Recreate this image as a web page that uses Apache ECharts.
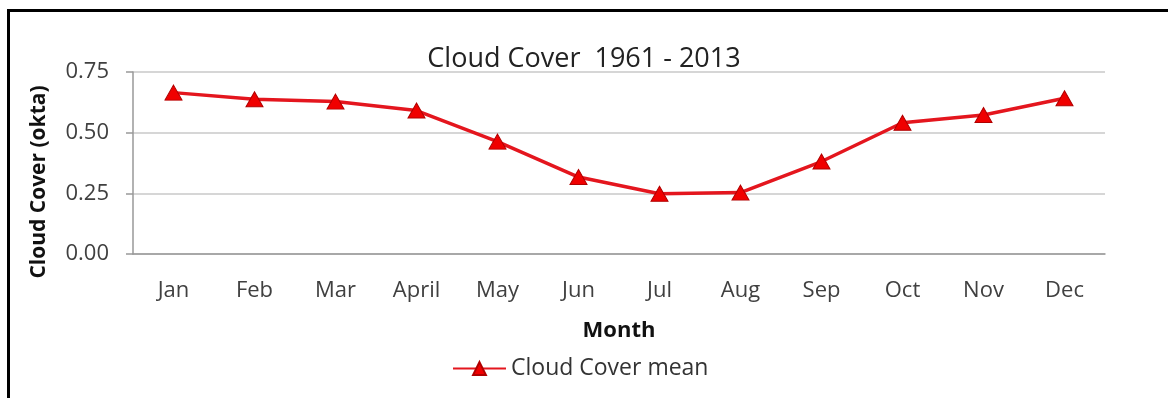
<!DOCTYPE html>
<html>
<head>
<meta charset="utf-8">
<script src="https://cdn.jsdelivr.net/npm/echarts@6/dist/echarts.min.js"></script>
<style>
  html, body { margin: 0; padding: 0; background: #fff; }
  #main { width: 1168px; height: 398px; }
</style>
</head>
<body>
<div id="main"></div>
<script>
var myChart = echarts.init(document.getElementById('main'));

// months on the x axis
var months = ['Jan', 'Feb', 'Mar', 'April', 'May', 'Jun', 'Jul', 'Aug', 'Sep', 'Oct', 'Nov', 'Dec'];
// mean cloud cover (okta)
var cloudMean = [0.665, 0.638, 0.628, 0.591, 0.463, 0.317, 0.248, 0.253, 0.381, 0.541, 0.573, 0.642];
// y axis ticks
var yTicks = [0, 0.25, 0.5, 0.75];

var font = 'Open Sans';
var gray = '#999';

myChart.setOption({
    animation: false,
    backgroundColor: '#fff',
    title: {
        text: 'Cloud Cover  1961 - 2013',
        left: 'center',
        top: 41,
        textStyle: { fontFamily: font, fontSize: 27, fontWeight: 'normal', color: '#222' }
    },
    legend: {
        left: 447,
        top: 352,
        itemWidth: 53,
        itemHeight: 16,
        itemGap: 10,
        textStyle: { fontFamily: font, fontSize: 23, color: '#333' },
        data: ['Cloud Cover mean']
    },
    grid: { left: 133, right: 63, top: 72, bottom: 144 },
    xAxis: {
        type: 'category',
        data: months,
        name: 'Month',
        nameLocation: 'middle',
        nameGap: 66,
        nameTextStyle: { fontFamily: font, fontSize: 22, fontWeight: 'bold', color: '#111' },
        axisLine: { lineStyle: { color: gray, width: 1.5 } },
        axisTick: { length: 8, lineStyle: { color: gray, width: 1.5 } },
        axisLabel: { margin: 26, fontFamily: font, fontSize: 22, color: '#404040' }
    },
    yAxis: {
        type: 'value',
        min: yTicks[0],
        max: yTicks[yTicks.length - 1],
        interval: 0.25,
        axisLine: { show: true, lineStyle: { color: gray, width: 1.5 } },
        axisTick: { show: true, length: 7, lineStyle: { color: gray, width: 1.5 } },
        axisLabel: {
            margin: 24,
            fontFamily: font,
            fontSize: 22,
            color: '#404040',
            formatter: function (v) { return v.toFixed(2); }
        },
        splitLine: { lineStyle: { color: '#c8c8c8', width: 1.5 } }
    },
    series: [
        {
            name: 'Cloud Cover mean',
            type: 'line',
            data: cloudMean,
            symbol: 'triangle',
            symbolSize: [17, 15],
            lineStyle: { color: '#e4161e', width: 3.5 },
            itemStyle: { color: '#f00000', borderColor: '#b00000', borderWidth: 1 }
        }
    ],
    graphic: [
        {
            // frame round the chart, open at right and bottom
            type: 'rect',
            shape: { x: 8.5, y: 10.5, width: 1300, height: 600 },
            style: { fill: 'none', stroke: '#000', lineWidth: 3 },
            silent: true
        },
        {
            type: 'text',
            x: 39,
            y: 182,
            rotation: Math.PI / 2,
            style: {
                text: 'Cloud Cover (okta)',
                x: 0,
                y: 0,
                align: 'center',
                verticalAlign: 'middle',
                fontFamily: font,
                fontSize: 21,
                fontWeight: 'bold',
                fill: '#111'
            }
        }
    ]
});
</script>
</body>
</html>
